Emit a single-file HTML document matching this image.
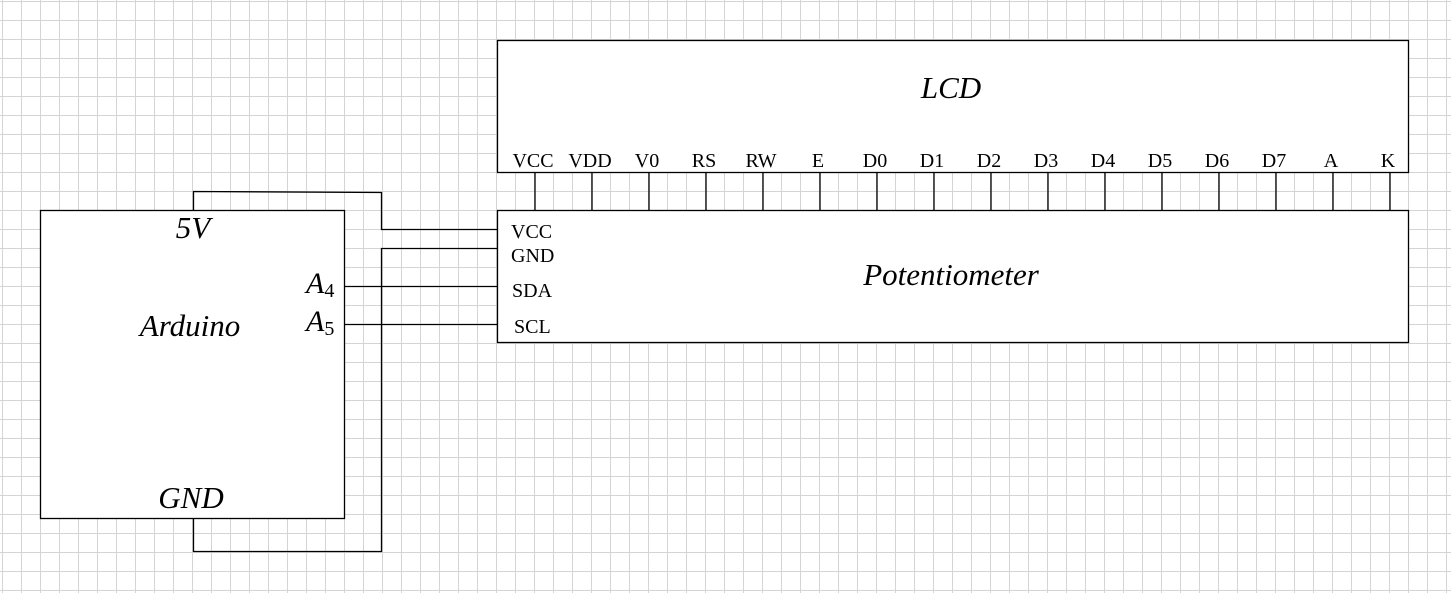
<!DOCTYPE html>
<html><head><meta charset="utf-8"><style>
html,body{margin:0;padding:0;background:#fff}
svg{display:block}
text{font-family:"Liberation Serif",serif;fill:#000}
</style></head><body>
<svg width="1451" height="593" xmlns="http://www.w3.org/2000/svg">
<defs><pattern id="g" x="2" y="1" width="19" height="19" patternUnits="userSpaceOnUse">
<path d="M0.5 0V19M0 0.5H19" stroke="#d4d4d4" stroke-width="1" fill="none"/></pattern></defs>
<rect width="1451" height="593" fill="url(#g)"/>
<g stroke="#000" stroke-width="1.3" fill="none">
<rect x="497.5" y="40.5" width="911" height="132" fill="#fff"/>
<rect x="497.5" y="210.5" width="911" height="132" fill="#fff"/>
<rect x="40.5" y="210.5" width="304" height="308" fill="#fff"/>
<path d="M535 172V210M592 172V210M649 172V210M706 172V210M763 172V210M820 172V210M877 172V210M934 172V210M991 172V210M1048 172V210M1105 172V210M1162 172V210M1219 172V210M1276 172V210M1333 172V210M1390 172V210"/>
<path d="M193.5 210V191.5L381.5 192.5V229.5H497"/>
<path d="M193.5 518V551.5H381.5V248.5H497"/>
<path d="M344 286.5H497M344 324.5H497"/>
</g>
<g font-size="20" text-anchor="middle">
<text x="533" y="167">VCC</text><text x="590" y="167">VDD</text><text x="647" y="167">V0</text>
<text x="704" y="167">RS</text><text x="761" y="167">RW</text><text x="818" y="167">E</text>
<text x="875" y="167">D0</text><text x="932" y="167">D1</text><text x="989" y="167">D2</text>
<text x="1046" y="167">D3</text><text x="1103" y="167">D4</text><text x="1160" y="167">D5</text>
<text x="1217" y="167">D6</text><text x="1274" y="167">D7</text><text x="1331" y="167">A</text>
<text x="1388" y="167">K</text>
</g>
<g font-size="20">
<text x="511" y="238">VCC</text><text x="511" y="262">GND</text>
<text x="512" y="297">SDA</text><text x="514" y="333">SCL</text>
</g>
<g font-style="italic" font-size="31" text-anchor="middle">
<text x="951" y="98">LCD</text>
<text x="951" y="285">Potentiometer</text>
<text x="190" y="336">Arduino</text>
<text x="193" y="238">5V</text>
<text x="191" y="508">GND</text>
</g>
<text x="306" y="293" font-size="30" font-style="italic">A<tspan font-style="normal" font-size="20" dy="4">4</tspan></text>
<text x="306" y="331" font-size="30" font-style="italic">A<tspan font-style="normal" font-size="20" dy="4">5</tspan></text>
</svg>
</body></html>
